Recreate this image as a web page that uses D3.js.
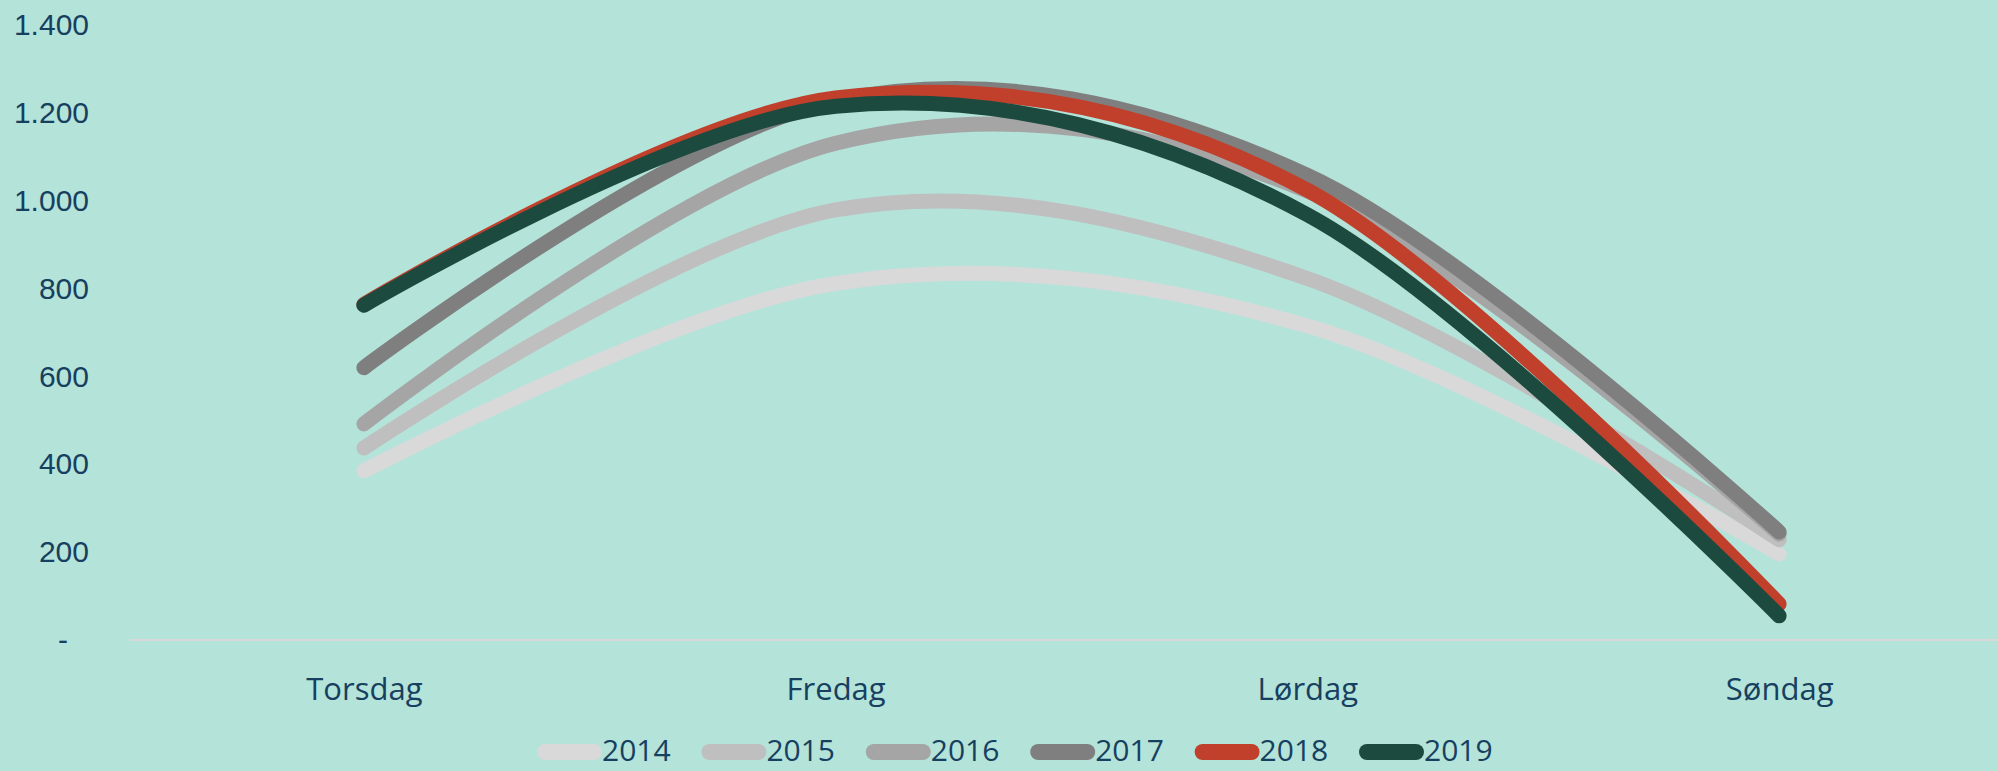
<!DOCTYPE html>
<html>
<head>
<meta charset="utf-8">
<script src="https://cdn.jsdelivr.net/npm/d3@7"></script>
<style>
  html, body { margin: 0; padding: 0; background: #b4e3d9; }
  svg { display: block; }
</style>
</head>
<body>
<svg id="chart"></svg>
<script>
let w = 1998
let h = 771

// data
let days = ["Torsdag", "Fredag", "Lørdag", "Søndag"]
let years = ["2014", "2015", "2016", "2017", "2018", "2019"]
let v2014 = [385, 812, 715, 196]
let v2015 = [437, 979, 823, 228]
let v2016 = [492, 1131, 1022, 241]
let v2017 = [620, 1228, 1058, 246]
let v2018 = [764, 1234, 1024, 82]
let v2019 = [762, 1215, 968, 55]
let yTicks = [0, 200, 400, 600, 800, 1000, 1200, 1400]

let colors = ["#d9d9d9", "#bfbfbf", "#a5a5a5", "#7f7f7f", "#c0402c", "#1c4a3f"]
let series = [v2014, v2015, v2016, v2017, v2018, v2019]

let textColor = "#173f5f"

let svg = d3.select("#chart")
  .attr("width", w)
  .attr("height", h)

svg.append("rect")
  .attr("width", w)
  .attr("height", h)
  .attr("fill", "#b4e3d9")

let x = d3.scalePoint()
  .domain(days)
  .range([128, 2015])
  .padding(0.5)

let y = d3.scaleLinear()
  .domain([0, 1400])
  .range([640, 25])

let nf = d3.formatLocale({decimal: ",", thousands: ".", grouping: [3], currency: ["", ""]}).format(",")

// y axis labels
let yAxis = svg.append("g")
  .attr("transform", "translate(99,0)")
  .call(d3.axisLeft(y).tickValues(yTicks).tickSize(0).tickPadding(10)
    .tickFormat(d => d === 0 ? "-" : nf(d)))
yAxis.select(".domain").remove()
yAxis.selectAll("text")
  .attr("fill", textColor)
  .style("font-family", "'Liberation Sans', Arial, sans-serif")
  .style("font-size", "30px")
yAxis.selectAll(".tick").filter(d => d === 0).select("text")
  .attr("x", -31)

// baseline
svg.append("line")
  .attr("x1", 130)
  .attr("x2", w)
  .attr("y1", y(0))
  .attr("y2", y(0))
  .attr("stroke", "#d9d9d9")
  .attr("stroke-width", 2)

// x axis labels
let xAxis = svg.append("g")
  .attr("transform", "translate(0," + y(0) + ")")
  .call(d3.axisBottom(x).tickSize(0).tickPadding(38))
xAxis.select(".domain").remove()
xAxis.selectAll("text")
  .attr("fill", textColor)
  .style("font-family", "'Open Sans', sans-serif")
  .style("font-size", "31px")

let line = d3.line()
  .x((d, i) => x(days[i]))
  .y(d => y(d))
  .curve(d3.curveCardinal.tension(0))

svg.append("g")
  .selectAll("path")
  .data(series)
  .join("path")
  .attr("d", d => line(d))
  .attr("fill", "none")
  .attr("stroke", (d, i) => colors[i])
  .attr("stroke-width", 15)
  .attr("stroke-linecap", "round")
  .attr("stroke-linejoin", "round")

// legend
let legend = svg.append("g")
  .selectAll("g")
  .data(years)
  .join("g")
  .attr("transform", (d, i) => "translate(" + (537 + i * 164.4) + ",752)")

legend.append("line")
  .attr("x1", 8)
  .attr("x2", 57)
  .attr("stroke", (d, i) => colors[i])
  .attr("stroke-width", 16)
  .attr("stroke-linecap", "round")

legend.append("text")
  .attr("x", 65)
  .attr("y", 9)
  .attr("fill", textColor)
  .style("font-family", "'Open Sans', sans-serif")
  .style("font-size", "30px")
  .text(d => d)
</script>
</body>
</html>
